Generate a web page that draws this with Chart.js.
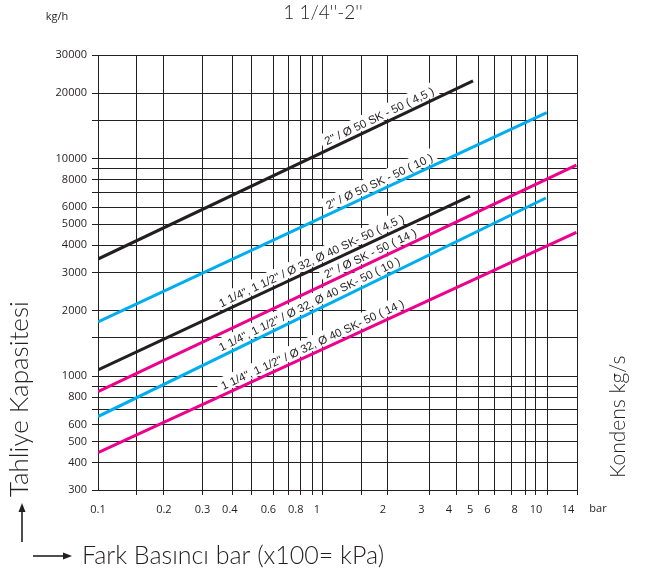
<!DOCTYPE html>
<html>
<head>
<meta charset="utf-8">
<title>1 1/4''-2''</title>
<script src="https://cdn.jsdelivr.net/npm/chart.js@4.4.1/dist/chart.umd.min.js"></script>
<style>
  body { margin: 0; background: #fff; }
  #wrap { width: 645px; height: 569px; }
</style>
</head>
<body>
<div id="wrap"><canvas id="myChart" width="645" height="569"></canvas></div>
<script>
// pressure (bar) and capacity (kg/h) at the two ends of each line
const blackTopX = [0.1, 5.16];
const blackTopY = [3460, 22800];
const blueTopX = [0.1, 11.2];
const blueTopY = [1780, 16300];
const blackLowX = [0.1, 5.0];
const blackLowY = [1070, 6740];
const magentaTopX = [0.1, 15.3];
const magentaTopY = [850, 9350];
const blueLowX = [0.1, 11.1];
const blueLowY = [653, 6600];
const magentaLowX = [0.1, 15.3];
const magentaLowY = [445, 4590];

// tick labels and grid lines
const xLabels = [0.1, 0.2, 0.3, 0.4, 0.6, 0.8, 1, 2, 3, 4, 5, 6, 8, 10, 14];
const xGrid = [0.15, 0.2, 0.3, 0.41, 0.5, 0.63, 0.74, 0.84, 0.95, 1.06, 1.6, 2.1, 3.25, 4.35, 5.45, 6.5, 7.7, 9, 10, 11.3, 15.4];
const yLabels = [300, 400, 500, 600, 800, 1000, 2000, 3000, 4000, 5000, 6000, 8000, 10000, 20000, 30000];
const yGrid = [300, 400, 500, 600, 700, 800, 900, 1000, 1500, 2000, 3000, 4000, 5000, 6000, 7000, 8000, 9000, 10000, 15000, 20000, 30000];

const lineLabels = [
  { ds: 0, at: 2.0, text: '2" / Ø 50 SK - 50 ( 4,5 )' },
  { ds: 1, at: 2.0, text: '2" / Ø 50 SK - 50 ( 10 )' },
  { ds: 2, at: 0.98, text: '1 1/4", 1 1/2" / Ø 32, Ø 40 SK- 50 ( 4.5 )' },
  { ds: 3, at: 1.82, text: '2" / Ø SK - 50 ( 14 )' },
  { ds: 4, at: 0.96, text: '1 1/4", 1 1/2" / Ø 32, Ø 40 SK- 50 ( 10 )' },
  { ds: 5, at: 0.99, text: '1 1/4", 1 1/2" / Ø 32, Ø 40 SK- 50 ( 14 )' }
];

const BLACK = '#231f20';
const CYAN = '#00aeef';
const MAGENTA = '#ec008c';

function pairs(xs, ys) {
  return xs.map(function (x, i) { return { x: x, y: ys[i] }; });
}

function unionTicks(a, b) {
  const all = a.concat(b).filter(function (v, i, arr) { return arr.indexOf(v) === i; });
  all.sort(function (p, q) { return p - q; });
  return all.map(function (v) { return { value: v }; });
}

function labelGeometry(chart, lab) {
  const xs = chart.scales.x, ys = chart.scales.y;
  const d = chart.data.datasets[lab.ds].data;
  const x0 = xs.getPixelForValue(d[0].x), y0 = ys.getPixelForValue(d[0].y);
  const x1 = xs.getPixelForValue(d[1].x), y1 = ys.getPixelForValue(d[1].y);
  const cx = xs.getPixelForValue(lab.at);
  const cy = y0 + (cx - x0) / (x1 - x0) * (y1 - y0);
  return { cx: cx, cy: cy, angle: Math.atan2(y1 - y0, x1 - x0) };
}

function drawLabels(chart, background) {
  const ctx = chart.ctx;
  ctx.save();
  ctx.font = '11.5px "Liberation Sans", Arial, sans-serif';
  lineLabels.forEach(function (lab) {
    const g = labelGeometry(chart, lab);
    const w = ctx.measureText(lab.text).width;
    ctx.save();
    ctx.translate(g.cx, g.cy);
    ctx.rotate(g.angle);
    if (background) {
      ctx.fillStyle = '#fff';
      ctx.fillRect(-w / 2 - 4, -17, w + 8, 14.5);
    } else {
      ctx.fillStyle = BLACK;
      ctx.textAlign = 'center';
      ctx.textBaseline = 'alphabetic';
      ctx.fillText(lab.text, 0, -4.5);
    }
    ctx.restore();
  });
  ctx.restore();
}

const lineLabelPlugin = {
  id: 'lineLabels',
  beforeDatasetsDraw: function (chart) { drawLabels(chart, true); },
  afterDatasetsDraw: function (chart) { drawLabels(chart, false); }
};

function arrow(ctx, x0, y0, x1, y1) {
  const a = Math.atan2(y1 - y0, x1 - x0);
  ctx.beginPath();
  ctx.moveTo(x0, y0);
  ctx.lineTo(x1 - 7 * Math.cos(a), y1 - 7 * Math.sin(a));
  ctx.stroke();
  ctx.beginPath();
  ctx.moveTo(x1, y1);
  ctx.lineTo(x1 - 9 * Math.cos(a) + 3.5 * Math.sin(a), y1 - 9 * Math.sin(a) - 3.5 * Math.cos(a));
  ctx.lineTo(x1 - 9 * Math.cos(a) - 3.5 * Math.sin(a), y1 - 9 * Math.sin(a) + 3.5 * Math.cos(a));
  ctx.closePath();
  ctx.fill();
}

const decorPlugin = {
  id: 'decor',
  afterDraw: function (chart) {
    const ctx = chart.ctx;
    ctx.save();
    ctx.fillStyle = BLACK;
    ctx.strokeStyle = BLACK;
    ctx.lineWidth = 1.6;
    ctx.textBaseline = 'middle';

    ctx.textAlign = 'center';
    ctx.font = '300 19px Lato, sans-serif';
    ctx.fillText("1 1/4''-2''", 323, 13);

    ctx.font = '11px "Open Sans", sans-serif';
    ctx.fillText('kg/h', 57, 17);
    ctx.fillText('bar', 598, 509);

    ctx.textAlign = 'left';
    ctx.font = '300 25px Lato, sans-serif';
    ctx.fillText('Fark Basıncı bar (x100= kPa)', 82, 556);
    arrow(ctx, 33, 556, 72, 556);
    arrow(ctx, 22, 542, 22, 503);

    ctx.save();
    ctx.translate(20, 497);
    ctx.rotate(-Math.PI / 2);
    ctx.font = '300 26px Lato, sans-serif';
    ctx.fillText('Tahliye Kapasitesi', 0, 0);
    ctx.restore();

    ctx.save();
    ctx.translate(618, 478);
    ctx.rotate(-Math.PI / 2);
    ctx.font = '300 21px Lato, sans-serif';
    ctx.fillText('Kondens kg/s', 0, 0);
    ctx.restore();

    ctx.restore();
  }
};

const ctx = document.getElementById('myChart');
const myChart = new Chart(ctx, {
  type: 'line',
  data: {
    datasets: [
      { label: '2" / Ø 50 SK - 50 (4,5)', data: pairs(blackTopX, blackTopY), borderColor: BLACK },
      { label: '2" / Ø 50 SK - 50 (10)', data: pairs(blueTopX, blueTopY), borderColor: CYAN },
      { label: '1 1/4", 1 1/2" / Ø 32, Ø 40 SK- 50 (4.5)', data: pairs(blackLowX, blackLowY), borderColor: BLACK },
      { label: '2" / Ø SK - 50 (14)', data: pairs(magentaTopX, magentaTopY), borderColor: MAGENTA },
      { label: '1 1/4", 1 1/2" / Ø 32, Ø 40 SK- 50 (10)', data: pairs(blueLowX, blueLowY), borderColor: CYAN },
      { label: '1 1/4", 1 1/2" / Ø 32, Ø 40 SK- 50 (14)', data: pairs(magentaLowX, magentaLowY), borderColor: MAGENTA }
    ]
  },
  options: {
    responsive: false,
    animation: false,
    layout: { padding: { top: 55, right: 68, left: 0, bottom: 0 } },
    elements: {
      line: { borderWidth: 3, tension: 0 },
      point: { radius: 0 }
    },
    plugins: {
      legend: { display: false },
      tooltip: { enabled: false }
    },
    scales: {
      x: {
        type: 'logarithmic',
        min: 0.1,
        max: 15.4,
        afterBuildTicks: function (scale) { scale.ticks = unionTicks(xLabels, xGrid); },
        afterFit: function (scale) { scale.height = 79; },
        grid: {
          color: function (c) { return xGrid.indexOf(c.tick.value) >= 0 ? BLACK : 'rgba(0,0,0,0)'; },
          lineWidth: 1,
          tickLength: 5
        },
        border: { color: BLACK, width: 1 },
        ticks: {
          autoSkip: false,
          maxRotation: 0,
          padding: 8,
          color: BLACK,
          font: { family: '"Open Sans", sans-serif', size: 11 },
          callback: function (v) { return xLabels.indexOf(v) >= 0 ? String(v) : ''; }
        }
      },
      y: {
        type: 'logarithmic',
        min: 300,
        max: 30000,
        afterBuildTicks: function (scale) { scale.ticks = unionTicks(yLabels, yGrid); },
        afterFit: function (scale) { scale.width = 98; },
        grid: {
          color: BLACK,
          lineWidth: 1,
          tickLength: 6
        },
        border: { color: BLACK, width: 1 },
        ticks: {
          autoSkip: false,
          padding: 5,
          color: BLACK,
          font: { family: '"Open Sans", sans-serif', size: 11 },
          callback: function (v) { return yLabels.indexOf(v) >= 0 ? String(v) : ''; }
        }
      }
    }
  },
  plugins: [lineLabelPlugin, decorPlugin]
});
</script>
</body>
</html>
